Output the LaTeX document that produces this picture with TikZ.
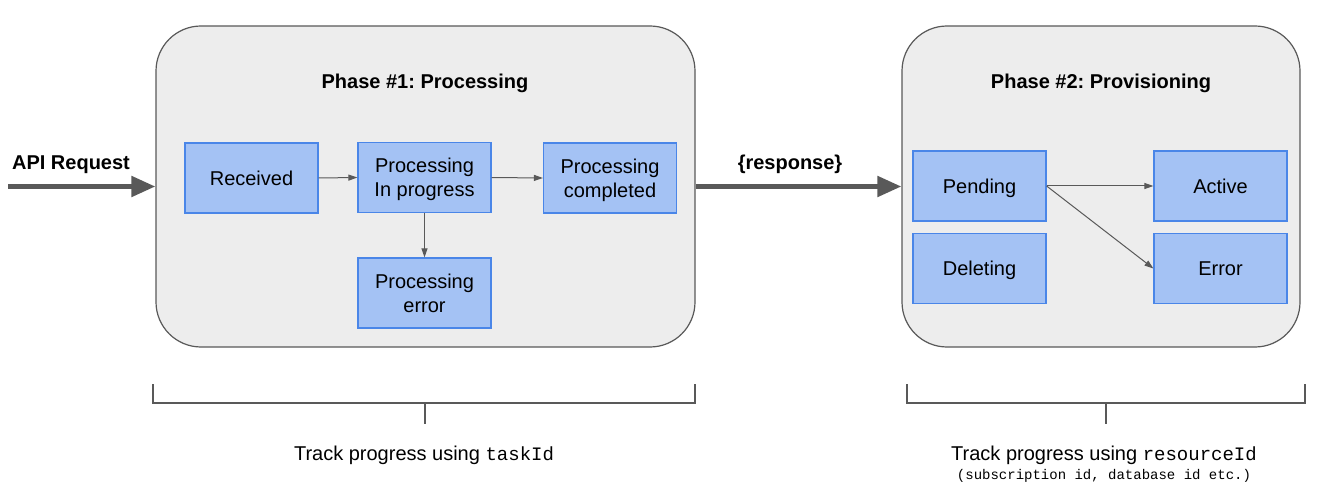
\documentclass[tikz,border=0pt]{standalone}
\usepackage{fontspec}
\setmainfont{Liberation Sans}
\setmonofont{Liberation Mono}
\usetikzlibrary{arrows.meta}
\definecolor{boxfill}{HTML}{A4C2F4}
\definecolor{boxline}{HTML}{4A86E8}
\definecolor{phasefill}{HTML}{EDEDED}
\definecolor{dgray}{HTML}{595959}
\frenchspacing
\begin{document}
\begin{tikzpicture}[x=1pt,y=-1pt,
 phase/.style={draw=dgray, fill=phasefill, rounded corners=45pt, line width=1.2pt, inner sep=0pt},
 state/.style={draw=boxline, fill=boxfill, line width=1.2pt, minimum width=133pt, minimum height=70pt, align=center, font=\fontsize{20}{24}\selectfont, inner sep=0pt, text depth=0pt},
 flow/.style={draw=dgray, line width=1pt, -{Triangle[length=9pt,width=6pt]}},
 bigflow/.style={draw=dgray, line width=5pt, -{Triangle[length=24pt,width=20pt]}},
 title/.style={font=\bfseries\fontsize{20}{24}\selectfont, text depth=0pt},
 label/.style={font=\fontsize{20}{24}\selectfont, text depth=0pt},
 bracket/.style={draw=dgray, line width=1.6pt}
]
\useasboundingbox (0,0) rectangle (1325,497);
% phases
\node[phase, minimum width=539pt, minimum height=321pt] (p1) at (425.5,186.5) {};
\node[phase, minimum width=398pt, minimum height=321pt] (p2) at (1101,186.5) {};
\node[title] (t1) at (425,81.5) {Phase \#1: Processing};
\node[title] (t2) at (1101,81.5) {Phase \#2: Provisioning};
% states phase 1
\node[state] (recv) at (251.5,178) {Received};
\node[state] (prog) at (424.5,177.5) {Processing\\In progress};
\node[state] (comp) at (610,178) {Processing\\completed};
\node[state] (perr) at (424.5,293) {Processing\\error};
% states phase 2
\node[state] (pend) at (979.5,186) {Pending};
\node[state] (del) at (979.5,268.5) {Deleting};
\node[state] (act) at (1220.5,186) {Active};
\node[state] (err) at (1220.5,268.5) {Error};
% flows
\draw[flow] (recv.east) -- (prog.west);
\draw[flow] (prog.east) -- (comp.west);
\draw[flow] (prog.south) -- (perr.north);
\draw[flow] (pend.east) -- (act.west);
\draw[flow] (pend.east) -- (err.west);
% big arrows
\coordinate (apistart) at (8,186.5);
\node[title] (api) at (71,162.5) {API Request};
\draw[bigflow] (apistart) -- (p1.west);
\node[title] (resp) at (790,162.5) {\{response\}};
\draw[bigflow] (p1.east) -- (p2.west);
% brackets
\coordinate (a1) at (153,384);
\coordinate (a2) at (153,403);
\coordinate (a3) at (695,403);
\coordinate (a4) at (695,384);
\coordinate (a5) at (425,403);
\coordinate (a6) at (425,424);
\draw[bracket] (a1) -- (a2) -- (a3) -- (a4);
\draw[bracket] (a5) -- (a6);
\coordinate (c1) at (907,384);
\coordinate (c2) at (907,403);
\coordinate (c3) at (1305,403);
\coordinate (c4) at (1305,384);
\coordinate (c5) at (1106,403);
\coordinate (c6) at (1106,424);
\draw[bracket] (c1) -- (c2) -- (c3) -- (c4);
\draw[bracket] (c5) -- (c6);
% texts
\node[label] (tr1) at (424,453) {Track progress using {\ttfamily\fontsize{19}{24}\selectfont taskId}};
\node[label] (tr2) at (1104,453) {Track progress using {\ttfamily\fontsize{19}{24}\selectfont resourceId}};
\node[font=\ttfamily\fontsize{14}{16}\selectfont, text depth=0pt] (sub) at (1104,474) {(subscription id, database id etc.)};
\end{tikzpicture}
\end{document}
